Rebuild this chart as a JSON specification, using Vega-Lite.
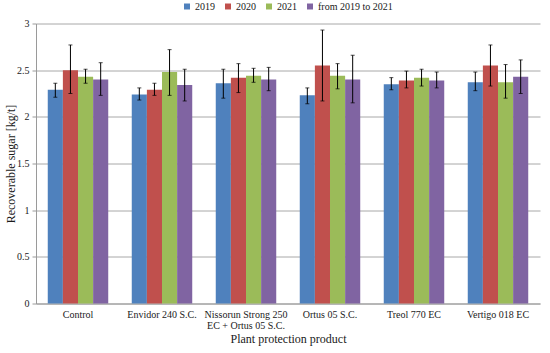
{
  "$schema": "https://vega.github.io/schema/vega-lite/v6.json",
  "width": 504,
  "height": 280,
  "autosize": {"type": "none"},
  "padding": {"left": 36, "top": 23.5, "right": 10, "bottom": 49.5},
  "background": "white",
  "config": {
    "font": "Liberation Serif",
    "view": {"stroke": null},
    "axis": {"labelFont": "Liberation Serif", "titleFont": "Liberation Serif", "labelColor": "#1a1a1a", "titleColor": "#1a1a1a", "titleFontWeight": "normal"},
    "legend": {"labelFont": "Liberation Serif"}
  },
  "data": {
    "values": [
      {"product": "Control", "year": "2019", "value": 2.29, "low": 2.21, "high": 2.36},
      {"product": "Control", "year": "2020", "value": 2.50, "low": 2.25, "high": 2.77},
      {"product": "Control", "year": "2021", "value": 2.43, "low": 2.36, "high": 2.51},
      {"product": "Control", "year": "from 2019 to 2021", "value": 2.40, "low": 2.23, "high": 2.58},
      {"product": "Envidor 240 S.C.", "year": "2019", "value": 2.24, "low": 2.18, "high": 2.31},
      {"product": "Envidor 240 S.C.", "year": "2020", "value": 2.29, "low": 2.23, "high": 2.36},
      {"product": "Envidor 240 S.C.", "year": "2021", "value": 2.48, "low": 2.23, "high": 2.72},
      {"product": "Envidor 240 S.C.", "year": "from 2019 to 2021", "value": 2.34, "low": 2.17, "high": 2.51},
      {"product": "Nissorun Strong 250 EC + Ortus 05 S.C.", "year": "2019", "value": 2.36, "low": 2.20, "high": 2.51},
      {"product": "Nissorun Strong 250 EC + Ortus 05 S.C.", "year": "2020", "value": 2.42, "low": 2.26, "high": 2.57},
      {"product": "Nissorun Strong 250 EC + Ortus 05 S.C.", "year": "2021", "value": 2.44, "low": 2.37, "high": 2.52},
      {"product": "Nissorun Strong 250 EC + Ortus 05 S.C.", "year": "from 2019 to 2021", "value": 2.40, "low": 2.28, "high": 2.53},
      {"product": "Ortus 05 S.C.", "year": "2019", "value": 2.23, "low": 2.14, "high": 2.31},
      {"product": "Ortus 05 S.C.", "year": "2020", "value": 2.55, "low": 2.17, "high": 2.93},
      {"product": "Ortus 05 S.C.", "year": "2021", "value": 2.44, "low": 2.30, "high": 2.57},
      {"product": "Ortus 05 S.C.", "year": "from 2019 to 2021", "value": 2.40, "low": 2.15, "high": 2.66},
      {"product": "Treol 770 EC", "year": "2019", "value": 2.35, "low": 2.29, "high": 2.42},
      {"product": "Treol 770 EC", "year": "2020", "value": 2.39, "low": 2.31, "high": 2.49},
      {"product": "Treol 770 EC", "year": "2021", "value": 2.42, "low": 2.33, "high": 2.51},
      {"product": "Treol 770 EC", "year": "from 2019 to 2021", "value": 2.39, "low": 2.31, "high": 2.48},
      {"product": "Vertigo 018 EC", "year": "2019", "value": 2.37, "low": 2.28, "high": 2.48},
      {"product": "Vertigo 018 EC", "year": "2020", "value": 2.55, "low": 2.33, "high": 2.77},
      {"product": "Vertigo 018 EC", "year": "2021", "value": 2.37, "low": 2.20, "high": 2.56},
      {"product": "Vertigo 018 EC", "year": "from 2019 to 2021", "value": 2.43, "low": 2.25, "high": 2.61}
    ]
  },
  "encoding": {
    "x": {
      "field": "product", "type": "nominal", "sort": null,
      "scale": {"paddingInner": 0.28, "paddingOuter": 0.14},
      "axis": {
        "title": "Plant protection product",
        "titleFont": "Liberation Serif", "labelFont": "Liberation Serif",
        "titleFontSize": 12, "titlePadding": 3,
        "labelAngle": 0, "labelFontSize": 10, "labelLineHeight": 11,
        "labelPadding": 6, "ticks": false,
        "domainColor": "#9a9a9a", "grid": false,
        "labelExpr": "datum.value == 'Nissorun Strong 250 EC + Ortus 05 S.C.' ? ['Nissorun Strong 250', 'EC + Ortus 05 S.C.'] : datum.value"
      }
    },
    "xOffset": {"field": "year", "type": "nominal", "scale": {"paddingInner": 0, "paddingOuter": 0}}
  },
  "layer": [
    {
      "mark": {"type": "bar"},
      "encoding": {
        "y": {
          "field": "value", "type": "quantitative",
          "scale": {"domain": [0, 3], "nice": false},
          "axis": {
            "title": "Recoverable sugar [kg/t]", "titleFontSize": 12,
            "titleX": -26, "titleY": 140, "titleAngle": -90, "titleAlign": "center", "titleBaseline": "middle",
            "titleFont": "Liberation Serif", "labelFont": "Liberation Serif",
            "values": [0, 0.5, 1, 1.5, 2, 2.5, 3], "format": "~g",
            "labelFontSize": 10, "labelPadding": 3, "tickSize": 4,
            "tickColor": "#9a9a9a", "domainColor": "#9a9a9a",
            "gridColor": "#a8a8a8", "gridWidth": 1
          }
        },
        "color": {
          "field": "year", "type": "nominal",
          "scale": {"domain": ["2019", "2020", "2021", "from 2019 to 2021"], "range": ["#4F81BD", "#C0504D", "#9BBB59", "#8064A2"]},
          "legend": {
            "title": null, "orient": "none", "direction": "horizontal",
            "legendX": 146, "legendY": -22,
            "symbolType": "square", "symbolSize": 36, "symbolStrokeWidth": 0,
            "labelFontSize": 10, "labelFont": "Liberation Serif", "labelOffset": 3,
            "labelColor": "#1a1a1a", "columnPadding": 8
          }
        }
      }
    },
    {
      "mark": {"type": "rule", "color": "black", "strokeWidth": 1},
      "encoding": {
        "y": {"field": "low", "type": "quantitative"},
        "y2": {"field": "high"}
      }
    },
    {
      "mark": {"type": "tick", "color": "black", "thickness": 1, "size": 4},
      "encoding": {"y": {"field": "low", "type": "quantitative"}}
    },
    {
      "mark": {"type": "tick", "color": "black", "thickness": 1, "size": 4},
      "encoding": {"y": {"field": "high", "type": "quantitative"}}
    }
  ]
}
